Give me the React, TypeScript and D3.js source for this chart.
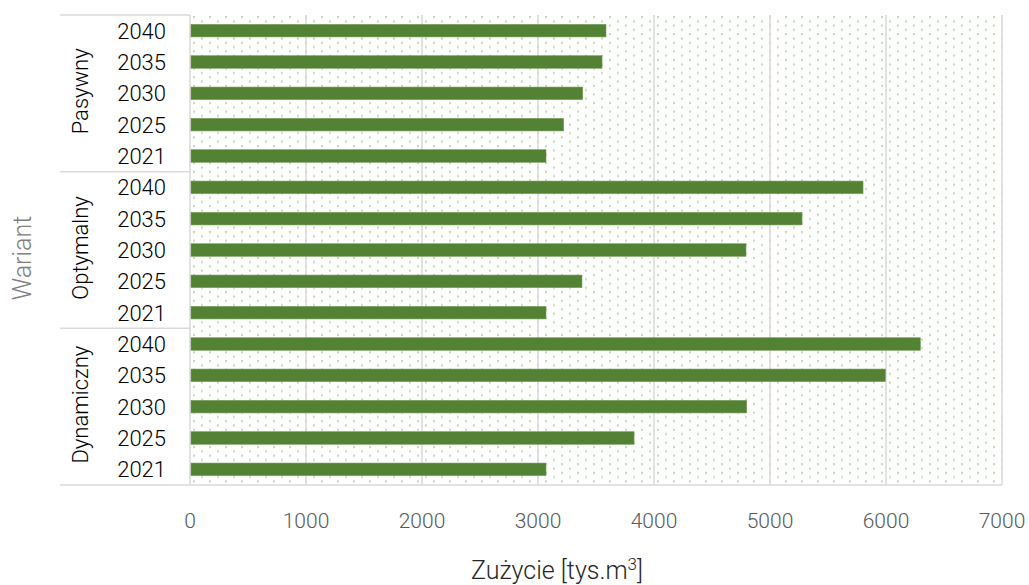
import React from "react";
import * as d3 from "d3";

const groups = ["Pasywny", "Optymalny", "Dynamiczny"];
const years = ["2040", "2035", "2030", "2025", "2021"];
const pasywny = [3586, 3552, 3385, 3221, 3069];
const optymalny = [5802, 5276, 4793, 3379, 3069];
const dynamiczny = [6296, 5994, 4799, 3828, 3069];
const xTicks = [0, 1000, 2000, 3000, 4000, 5000, 6000, 7000];

const W = 1029;
const H = 585;
const left = 190;
const right = 1002;
const top = 15;
const bottom = 485;
const labelLeft = 60;

const FONT = "Roboto, 'Noto Sans', sans-serif";

export default function App() {
  const seriesByGroup = [pasywny, optymalny, dynamiczny];
  const rows = groups.flatMap((g, gi) =>
    years.map((y, yi) => ({ key: `${g}-${y}`, group: g, year: y, value: seriesByGroup[gi][yi] }))
  );
  const x = d3.scaleLinear().domain([0, 7000]).range([left, right]);
  const y = d3
    .scaleBand<string>()
    .domain(rows.map((r) => r.key))
    .range([top, bottom])
    .paddingInner(0.6)
    .paddingOuter(0.3);
  const step = (bottom - top) / rows.length;
  const groupH = step * years.length;

  return (
    <svg width={W} height={H} style={{ position: "absolute", left: 0, top: 0 }}>
      <defs>
        <pattern id="dots" width={16} height={8.6} patternUnits="userSpaceOnUse" x={left} y={top}>
          <rect x={3} y={1} width={2} height={2} fill="#bfdcab" />
          <rect x={11} y={5.3} width={2} height={2} fill="#bfdcab" />
        </pattern>
      </defs>
      <rect x={0} y={0} width={W} height={H} fill="#fff" />
      <rect x={left} y={top} width={right - left} height={bottom - top} fill="url(#dots)" />
      {xTicks.slice(1).map((t) => (
        <line key={t} x1={x(t)} x2={x(t)} y1={top} y2={bottom} stroke="#d9d9d9" strokeWidth={1.5} />
      ))}
      <line x1={left} x2={left} y1={top} y2={bottom} stroke="#d9d9d9" strokeWidth={1.5} />
      {[0, 1, 2, 3].map((i) => (
        <line
          key={i}
          x1={labelLeft}
          x2={i === 3 ? right : left}
          y1={top + i * groupH}
          y2={top + i * groupH}
          stroke="#d9d9d9"
          strokeWidth={1.5}
        />
      ))}
      {rows.map((r) => (
        <rect
          key={r.key}
          x={x(0) + 1}
          y={y(r.key)!}
          width={x(r.value) - x(0) - 1}
          height={y.bandwidth()}
          fill="#548235"
          stroke="#6f9a52"
          strokeWidth={0.6}
        />
      ))}
      {rows.map((r) => (
        <text
          key={r.key + "l"}
          x={166}
          y={y(r.key)! + y.bandwidth() / 2}
          dy="0.36em"
          textAnchor="end"
          fontFamily={FONT}
          fontSize={22}
          fontWeight={300}
          fill="#000"
        >
          {r.year}
        </text>
      ))}
      {groups.map((g, gi) => (
        <text
          key={g}
          transform={`translate(80,${top + gi * groupH + groupH / 2 - 2}) rotate(-90)`}
          dy="0.36em"
          textAnchor="middle"
          fontFamily={FONT}
          fontSize={22}
          fontWeight={300}
          fill="#000"
        >
          {g}
        </text>
      ))}
      {xTicks.map((t) => (
        <text
          key={t}
          x={x(t)}
          y={520}
          dy="0.36em"
          textAnchor="middle"
          fontFamily={FONT}
          fontSize={21}
          fontWeight={300}
          fill="#595959"
        >
          {t}
        </text>
      ))}
      <text
        x={557}
        y={579}
        textAnchor="middle"
        fontFamily={FONT}
        fontSize={25}
        fontWeight={300}
        fill="#262626"
      >
        Zużycie [tys.m
        <tspan dy={-9} fontSize={17}>3</tspan>
        <tspan dy={9}>]</tspan>
      </text>
      <text
        transform={`translate(22,258) rotate(-90)`}
        dy="0.36em"
        textAnchor="middle"
        fontFamily={FONT}
        fontSize={25}
        fontWeight={300}
        fill="#808080"
      >
        Wariant
      </text>
    </svg>
  );
}
